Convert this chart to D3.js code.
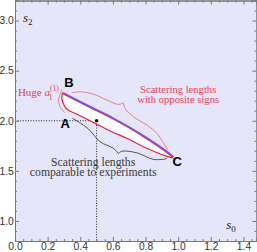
<!DOCTYPE html>
<html>
<head>
<meta charset="utf-8">
<script src="https://cdn.jsdelivr.net/npm/d3@7"></script>
<style>
  body { margin: 0; background: #fff; }
  svg { display: block; }
</style>
</head>
<body>
<div id="chart"></div>
<script>
// axis ticks
const xTicks = [0.0, 0.2, 0.4, 0.6, 0.8, 1.0, 1.2, 1.4]
const yTicks = [1.0, 1.5, 2.0, 2.5, 3.0]

// upper edge of the allowed region, B -> C
const upperX = [0.290, 0.450, 0.593, 0.787, 0.961, 0.968]
const upperY = [2.273, 2.139, 2.024, 1.841, 1.642, 1.628]
// lower / left edge, C -> B
const lowerX = [0.968, 0.931, 0.787, 0.685, 0.593, 0.491, 0.368, 0.327, 0.311, 0.296, 0.287, 0.290]
const lowerY = [1.628, 1.644, 1.741, 1.825, 1.891, 1.974, 2.074, 2.106, 2.129, 2.173, 2.223, 2.273]

// point A
const pointA = [0.5, 2.0]

// braces (two halves meeting at the cusp)
const braceExpLeftX = [0.350, 0.448, 0.521, 0.603, 0.634]
const braceExpLeftY = [2.027, 1.921, 1.791, 1.725, 1.673]
const braceExpRightX = [0.634, 0.655, 0.747, 0.849, 0.931]
const braceExpRightY = [1.673, 1.696, 1.680, 1.614, 1.621]

const braceSignLeftX = [0.348, 0.399, 0.480, 0.563, 0.634, 0.664]
const braceSignLeftY = [2.279, 2.289, 2.266, 2.206, 2.163, 2.179]
const braceSignRightX = [0.664, 0.675, 0.726, 0.808, 0.869, 0.936]
const braceSignRightY = [2.179, 2.123, 2.040, 1.957, 1.875, 1.708]

const braceHugeLeftX = [0.288, 0.273, 0.266]
const braceHugeLeftY = [2.315, 2.251, 2.196]
const braceHugeRightX = [0.266, 0.276, 0.304]
const braceHugeRightY = [2.196, 2.141, 2.082]

// labels
const pointLabels = [
  { t: 'A', x: 0.307, y: 1.927 },
  { t: 'B', x: 0.331, y: 2.335 },
  { t: 'C', x: 0.994, y: 1.544 }
]
const signLines = ['Scattering lengths', 'with opposite signs']
const expLines = ['Scattering lengths', 'comparable to experiments']

const margin = { top: 0.5, right: 0.5, bottom: 11, left: 15 }
const width = 257 - margin.left - margin.right
const height = 252 - margin.top - margin.bottom

const svg = d3
  .select('#chart')
  .append('svg')
  .attr('width', 257)
  .attr('height', 252)
  .append('g')
  .attr('transform', 'translate(' + margin.left + ',' + margin.top + ')')

const x = d3.scaleLinear().domain([0, 1.48]).range([0, width])
const y = d3.scaleLinear().domain([0.8, 3.2]).range([height, 0])

const xMinor = d3.range(0, 1.4801, 0.05).filter(v => !xTicks.some(t => Math.abs(t - v) < 1e-6))
const yMinor = d3.range(0.8, 3.2001, 0.1).filter(v => !yTicks.some(t => Math.abs(t - v) < 1e-6))

svg.append('rect')
  .attr('width', width)
  .attr('height', height)
  .attr('fill', '#e6e6fa')

const zip = (xs, ys) => xs.map((v, i) => [v, ys[i]])
const smooth = d3.line().x(d => x(d[0])).y(d => y(d[1])).curve(d3.curveCatmullRom)

// dotted guide lines to A
svg.append('path')
  .attr('d', d3.line()([[x(0), y(pointA[1])], [x(pointA[0]), y(pointA[1])], [x(pointA[0]), y(0.8)]]))
  .attr('fill', 'none')
  .attr('stroke', '#222')
  .attr('stroke-width', 1)
  .attr('stroke-dasharray', '1,1.6')

// region
const upper = zip(upperX, upperY)
const lower = zip(lowerX, lowerY)
svg.append('path')
  .attr('d', smooth(upper) + smooth(lower).replace(/^M/, 'L') + 'Z')
  .attr('fill', 'white')
  .attr('stroke', '#e8203a')
  .attr('stroke-width', 1.2)

svg.append('path')
  .attr('d', smooth(upper))
  .attr('transform', 'translate(0.5,-0.8)')
  .attr('fill', 'none')
  .attr('stroke', '#7452f2')
  .attr('stroke-width', 1.5)

svg.append('circle')
  .attr('cx', x(pointA[0]))
  .attr('cy', y(pointA[1]))
  .attr('r', 1.8)
  .attr('fill', '#111')

// braces
const braces = [
  { l: zip(braceExpLeftX, braceExpLeftY), r: zip(braceExpRightX, braceExpRightY), c: '#444', w: 0.9 },
  { l: zip(braceSignLeftX, braceSignLeftY), r: zip(braceSignRightX, braceSignRightY), c: '#f0606c', w: 0.8 },
  { l: zip(braceHugeLeftX, braceHugeLeftY), r: zip(braceHugeRightX, braceHugeRightY), c: '#f0606c', w: 0.8 }
]
braces.forEach(b => {
  svg.append('path')
    .attr('d', smooth(b.l) + smooth(b.r))
    .attr('fill', 'none')
    .attr('stroke', b.c)
    .attr('stroke-width', b.w)
})

// frame + ticks
const frame = svg.append('g').attr('class', 'frame')
function addAxis (axis, tr) {
  const g = frame.append('g').attr('transform', tr).call(axis)
  g.select('.domain').attr('stroke', '#777')
  g.selectAll('.tick line').attr('stroke', '#777')
  g.selectAll('.tick text')
    .attr('fill', '#333')
    .attr('font-family', 'Liberation Sans, Arial, sans-serif')
    .attr('font-size', 10.3)
  return g
}
addAxis(d3.axisBottom(x).tickValues(xTicks).tickSize(-4).tickPadding(1.5).tickFormat(d3.format('.1f')), `translate(0,${height})`)
addAxis(d3.axisBottom(x).tickValues(xMinor).tickSize(-2).tickFormat(''), `translate(0,${height})`)
addAxis(d3.axisTop(x).tickValues(xTicks).tickSize(-4).tickFormat(''), 'translate(0,0)')
addAxis(d3.axisTop(x).tickValues(xMinor).tickSize(-2).tickFormat(''), 'translate(0,0)')
addAxis(d3.axisLeft(y).tickValues(yTicks).tickSize(-4).tickPadding(1.2).tickFormat(d3.format('.1f')), 'translate(0,0)')
addAxis(d3.axisLeft(y).tickValues(yMinor).tickSize(-2).tickFormat(''), 'translate(0,0)')
addAxis(d3.axisRight(y).tickValues(yTicks).tickSize(-4).tickFormat(''), `translate(${width},0)`)
addAxis(d3.axisRight(y).tickValues(yMinor).tickSize(-2).tickFormat(''), `translate(${width},0)`)

// point labels
svg.selectAll('.plabel')
  .data(pointLabels)
  .enter()
  .append('text')
  .attr('class', 'plabel')
  .attr('x', d => x(d.x))
  .attr('y', d => y(d.y))
  .attr('text-anchor', 'middle')
  .attr('font-family', 'Liberation Sans, Arial, sans-serif')
  .attr('font-weight', 'bold')
  .attr('font-size', 13)
  .attr('fill', '#000')
  .text(d => d.t)

// annotation texts
svg.selectAll('.sign')
  .data(signLines)
  .enter()
  .append('text')
  .attr('class', 'sign')
  .attr('x', x(1.0))
  .attr('y', (d, i) => y(2.28) + i * 10)
  .attr('text-anchor', 'middle')
  .attr('font-family', 'Liberation Serif, Times New Roman, serif')
  .attr('font-size', 10.6)
  .attr('fill', '#e8404c')
  .text(d => d)

svg.selectAll('.exp')
  .data(expLines)
  .enter()
  .append('text')
  .attr('class', 'exp')
  .attr('x', x(0.479))
  .attr('y', (d, i) => y(1.546) + i * 10)
  .attr('text-anchor', 'middle')
  .attr('font-family', 'Liberation Serif, Times New Roman, serif')
  .attr('font-size', 11.7)
  .attr('fill', '#3a3a3a')
  .text(d => d)

// Huge a_1^(1)
const huge = svg.append('text')
  .attr('x', x(0.018))
  .attr('y', y(2.25))
  .attr('font-family', 'Liberation Serif, Times New Roman, serif')
  .attr('font-size', 11)
  .attr('fill', '#e8404c')
huge.append('tspan').text('Huge ')
huge.append('tspan').attr('font-style', 'italic').text('a')
huge.append('tspan').attr('font-size', 7.5).attr('dy', -5).text('(1)')
huge.append('tspan').attr('font-size', 7.5).attr('dx', -10).attr('dy', 9).text('1')

// axis variable labels
function varLabel (vx, vy, sub) {
  const t = svg.append('text')
    .attr('x', x(vx))
    .attr('y', y(vy))
    .attr('font-family', 'Liberation Serif, Times New Roman, serif')
    .attr('fill', '#222')
  t.append('tspan').attr('font-size', 13).attr('font-style', 'italic').text('s')
  t.append('tspan').attr('font-size', 9).attr('dy', 3).text(sub)
}
varLabel(0.049, 2.99, '2')
varLabel(1.294, 0.92, '0')
</script>
</body>
</html>
